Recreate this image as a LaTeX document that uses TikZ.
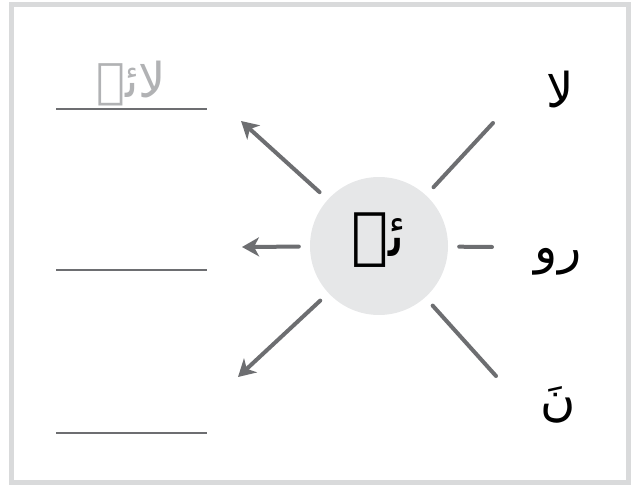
\documentclass[tikz,border=0pt]{standalone}
\usepackage{fontspec}
\newfontfamily\urdufont[Script=Arabic]{DejaVu Sans}
\TeXXeTstate=1
\usetikzlibrary{arrows.meta}
\definecolor{frameGray}{HTML}{D9DADB}
\definecolor{rayGray}{HTML}{6D6E71}
\definecolor{discGray}{HTML}{E6E7E8}
\definecolor{hintGray}{HTML}{B1B2B4}

\begin{document}
\begin{tikzpicture}[x=1pt, y=-1pt,
    ray/.style={rayGray, line width=4pt, line cap=round, shorten <=11pt},
    arrowray/.style={ray, -{Stealth[length=17pt, width=19pt, inset=5pt]}},
    blankline/.style={rayGray, line width=2.5pt},
    letter/.style={font=\urdufont\fontsize{48}{56}\selectfont, inner sep=0pt}]
            \useasboundingbox (0,0) rectangle (634,489);
            \draw[frameGray, line width=5pt] (11,4.5) rectangle (628.5,482.5);
            % centre letter
            \node[circle, fill=discGray, minimum size=138pt, inner sep=0pt] (hub) at (379,246) {};
            \node[font=\urdufont\fontsize{62}{70}\selectfont, inner sep=0pt] (hubtext) at (379,240) {\beginR ئے\endR};
            % outer ends of the rays
            \coordinate (ur) at (493,123);
            \coordinate (rt) at (492,247);
            \coordinate (lr) at (496,376);
            \coordinate (ul) at (241,121);
            \coordinate (lt) at (242,247);
            \coordinate (ll) at (238,377);
            \draw[ray] (hub) -- (ur);
            \draw[ray] (hub) -- (rt);
            \draw[ray] (hub) -- (lr);
            \draw[arrowray] (hub) -- (ul);
            \draw[arrowray] (hub) -- (lt);
            \draw[arrowray] (hub) -- (ll);
            % given parts on the right
            \node[letter] (la) at (560,90) {\beginR لا\endR};
            \node[letter] (ro) at (558,262) {\beginR رو\endR};
            \node[letter] (nun) at (558,405) {\beginR نَ\endR};
            % answer lines on the left
            \draw[blankline] (56,109) -- (207,109);
            \draw[blankline] (56,270) -- (207,270);
            \draw[blankline] (56,433) -- (207,433);
            \node[letter, text=hintGray] (lae) at (131,84) {\beginR لائے\endR};
        \end{tikzpicture}
\end{document}
